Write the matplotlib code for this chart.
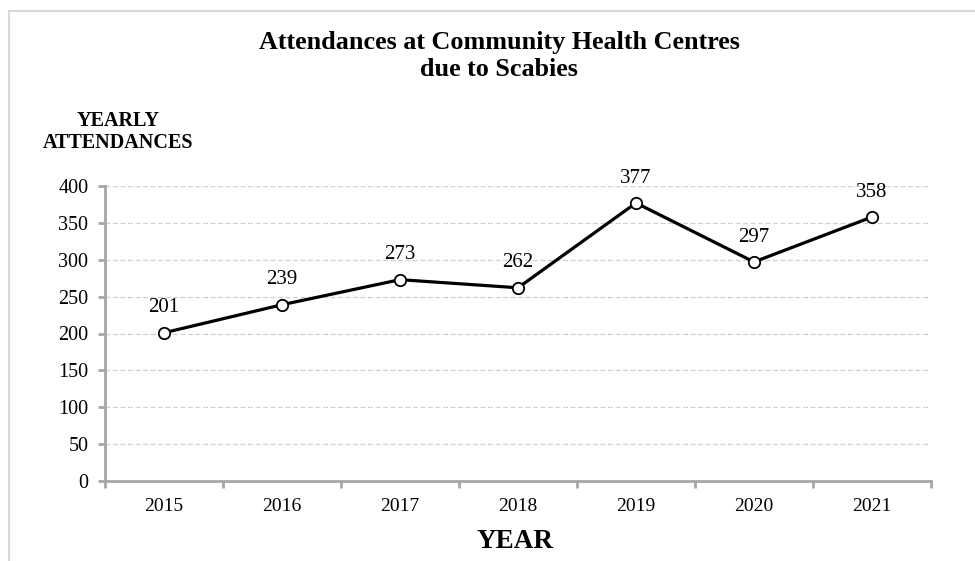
import matplotlib
matplotlib.use("Agg")
import matplotlib.pyplot as plt
from matplotlib.patches import Rectangle

years = ["2015", "2016", "2017", "2018", "2019", "2020", "2021"]
attendances = [201, 239, 273, 262, 377, 297, 358]
yticks = [0, 50, 100, 150, 200, 250, 300, 350, 400]

W, H = 975, 561
fig = plt.figure(figsize=(W / 100, H / 100), dpi=100)
plt.rcParams['font.family'] = ['Liberation Serif', 'DejaVu Serif']

# outer chart frame (partly cut off)
fig.patches.append(Rectangle((9 / W, -0.1), 1.2, 1 - 11 / H + 0.1, transform=fig.transFigure,
                             fill=False, edgecolor='#d9d9d9', linewidth=1.5))

ax = fig.add_axes([105 / W, 1 - 481 / H, (931 - 105) / W, (481 - 186) / H])
x = list(range(len(years)))
ax.plot(x, attendances, color='black', linewidth=2.3, marker='o', markersize=8.2,
        markerfacecolor='white', markeredgecolor='black', markeredgewidth=1.3, zorder=3)
for xi, v in zip(x, attendances):
    ax.annotate(str(v), (xi, v), xytext=(0, 11), textcoords='offset points',
                ha='center', va='bottom', fontsize=15)

ax.set_xlim(-0.5, len(years) - 0.5)
ax.set_ylim(0, 400)
ax.set_yticks(yticks)
ax.set_xticks(x)
ax.set_xticklabels(years, fontsize=14)
ax.tick_params(axis='x', length=0, pad=12)
ax.set_xticks([i - 0.5 for i in range(len(years) + 1)], minor=True)
ax.tick_params(axis='x', which='minor', length=5, width=2, color='#a6a6a6', direction='out')
ax.tick_params(axis='y', length=5, width=2, color='#a6a6a6', labelsize=14.5, pad=7)
ax.grid(axis='y', color='#d0d0d0', linestyle=(0, (4, 2)), linewidth=0.9)
ax.set_axisbelow(True)
for s in ['top', 'right']:
    ax.spines[s].set_visible(False)
for s in ['left', 'bottom']:
    ax.spines[s].set_color('#a6a6a6')
    ax.spines[s].set_linewidth(2)

fig.text(499 / W, 1 - 43 / H, "Attendances at Community Health Centres", ha='center', va='center',
         fontsize=18.8, fontweight='bold')
fig.text(499 / W, 1 - 70 / H, "due to Scabies", ha='center', va='center',
         fontsize=18.8, fontweight='bold')
fig.text(118 / W, 1 - 121 / H, "YEARLY", ha='center', va='center', fontsize=14.5, fontweight='bold')
fig.text(118 / W, 1 - 143 / H, "ATTENDANCES", ha='center', va='center', fontsize=14.5, fontweight='bold')
fig.text(515 / W, 1 - 541 / H, "YEAR", ha='center', va='center', fontsize=19.5, fontweight='bold')

fig.savefig("out.png", dpi=100)
